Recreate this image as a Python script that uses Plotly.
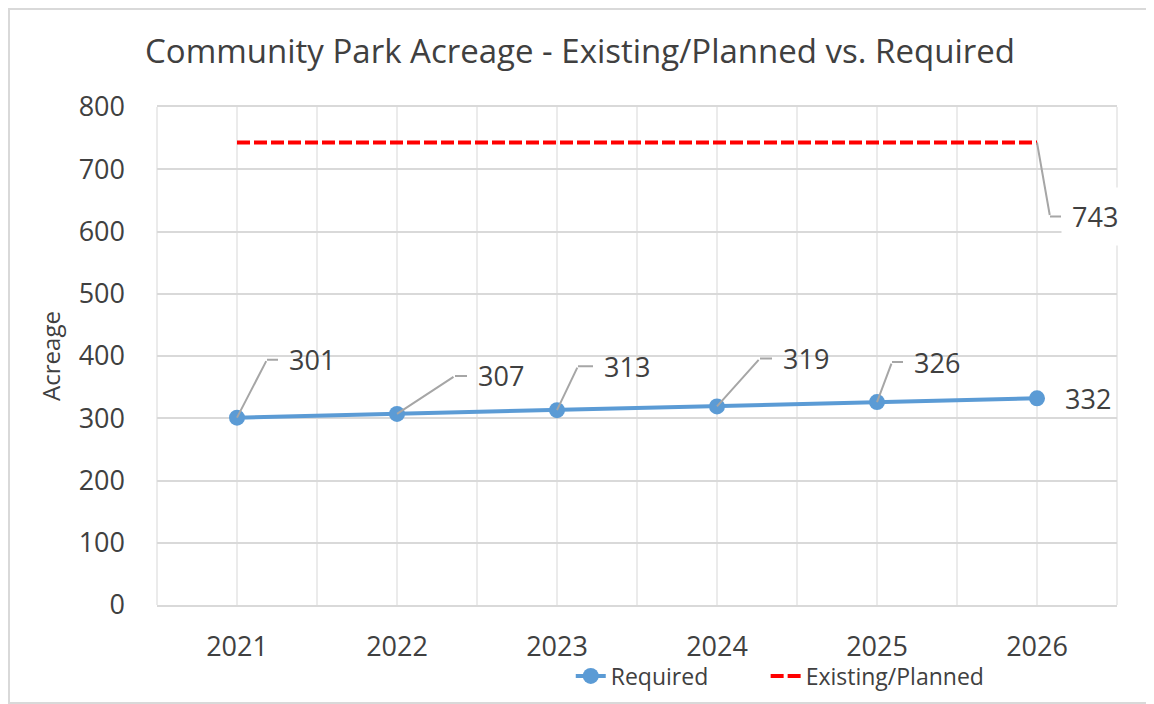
import plotly.graph_objects as go

# data
years = [2021, 2022, 2023, 2024, 2025, 2026]
required = [301, 307, 313, 319, 326, 332]
existing_planned = [743, 743, 743, 743, 743, 743]
y_ticks = [0, 100, 200, 300, 400, 500, 600, 700, 800]

# label leader offsets in px: (elbow dx, elbow dy, text left dx)
req_label_pos = [(30, -58, 51), (58, -38, 80), (21, -44, 46),
                 (43, -48, 65), (15, -40, 36), None]
FONT = "Open Sans"
TXT = "#404040"
LEADER = "#A6A6A6"

# page body has an 8px margin, so the figure is 8px smaller than the window
W, H = 1146, 696
L, T, PW, PH = 149, 99, 960, 498

fig = go.Figure()

fig.add_trace(go.Scatter(
    x=years, y=required, mode="lines+markers", name="Required",
    line=dict(color="#5B9BD5", width=4),
    marker=dict(color="#5B9BD5", size=16),
    cliponaxis=False, legend="legend", showlegend=True,
))
fig.add_trace(go.Scatter(
    x=years, y=existing_planned, mode="lines", name="Existing/Planned",
    line=dict(color="#FF0000", width=4, dash="13px,4px"),
    cliponaxis=False, legend="legend2", showlegend=True,
))

annotations = []
for yr, val, pos in zip(years, required, req_label_pos):
    if pos is None:
        annotations.append(dict(
            x=yr, y=val, text=str(val), showarrow=False, xanchor="left",
            xshift=26, font=dict(family=FONT, size=27, color=TXT)))
        continue
    ex, ey, tx = pos
    # diagonal part of leader line
    annotations.append(dict(
        x=yr, y=val, text="", showarrow=True, arrowhead=0, arrowwidth=2,
        arrowcolor=LEADER, ax=ex, ay=ey))
    # horizontal part + label
    annotations.append(dict(
        x=yr, y=val, text=str(val), showarrow=True, arrowhead=0, arrowwidth=2,
        arrowcolor=LEADER, xshift=ex, yshift=-ey, ax=tx - ex - 10, ay=0,
        xanchor="left", borderpad=10,
        font=dict(family=FONT, size=27, color=TXT)))

# label for the planned line (last point)
annotations.append(dict(
    x=years[-1], y=existing_planned[-1], text="", showarrow=True, arrowhead=0,
    arrowwidth=2, arrowcolor=LEADER, ax=13, ay=74))
annotations.append(dict(
    x=years[-1], y=existing_planned[-1], text=str(existing_planned[-1]),
    showarrow=True, arrowhead=0, arrowwidth=2, arrowcolor=LEADER,
    xshift=13, yshift=-74, ax=11, ay=0, xanchor="left", borderpad=10,
    bgcolor="white", font=dict(family=FONT, size=27, color=TXT)))

legend_style = dict(
    orientation="h", xanchor="left",
    yref="container", y=1 - 668 / H, yanchor="middle",
    font=dict(family=FONT, size=23, color=TXT),
    bgcolor="rgba(0,0,0,0)",
)

fig.update_layout(
    width=W, height=H,
    margin=dict(l=L, r=W - L - PW, t=T, b=H - T - PH),
    paper_bgcolor="white", plot_bgcolor="white",
    font=dict(family=FONT, color=TXT),
    showlegend=True,
    title=dict(
        text="Community Park Acreage - Existing/Planned vs. Required",
        x=572 / W, xanchor="center", y=1 - 43 / H, yanchor="middle",
        font=dict(family=FONT, size=33, color=TXT)),
    xaxis=dict(
        range=[2020.5, 2026.5], tickvals=years, ticktext=[str(y) for y in years],
        showgrid=True, gridcolor="#EBEBEB", gridwidth=2,
        minor=dict(dtick=0.5, tick0=2020.5, showgrid=True,
                   gridcolor="#EBEBEB", gridwidth=2),
        showline=True, linecolor="#D9D9D9", linewidth=2, mirror=True,
        zeroline=False, ticks="", ticklabelstandoff=17, automargin=False,
        tickfont=dict(family=FONT, size=27, color=TXT), fixedrange=True,
    ),
    yaxis=dict(
        range=[0, 800], tickvals=y_ticks, showgrid=True, gridcolor="#D9D9D9",
        gridwidth=2, zeroline=False, showline=False, ticks="",
        ticklabelstandoff=31, automargin=False,
        tickfont=dict(family=FONT, size=27, color=TXT),
        title=dict(text="Acreage", standoff=11,
                   font=dict(family=FONT, size=24, color=TXT)),
        fixedrange=True,
    ),
    legend=dict(x=0.431, **legend_style),
    legend2=dict(x=0.634, **legend_style),
    annotations=annotations,
    shapes=[
        # side lines of the plot area (lighter, like the vertical grid)
        dict(type="line", xref="paper", yref="paper", x0=0, x1=0, y0=0, y1=1,
             line=dict(color="#EBEBEB", width=2), layer="below"),
        dict(type="line", xref="paper", yref="paper", x0=1, x1=1, y0=0, y1=1,
             line=dict(color="#EBEBEB", width=2), layer="below"),
        # outer chart border
        dict(type="rect", xref="paper", yref="paper",
             x0=(1 - L) / PW, x1=(W - 1 - L) / PW,
             y0=(T + PH - (H - 1)) / PH, y1=(T + PH - 1) / PH,
             line=dict(color="#D9D9D9", width=2)),
    ],
)

fig.write_html("out.html")
